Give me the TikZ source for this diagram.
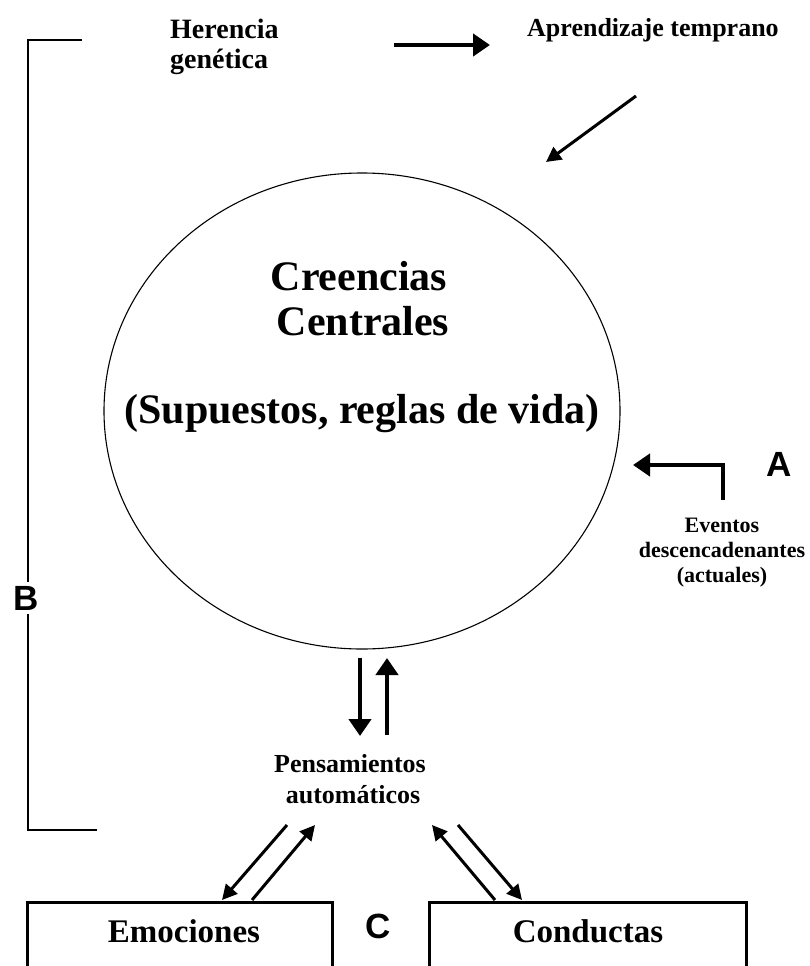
\documentclass[tikz,border=0pt]{standalone}
\usepackage{fontspec}
\setmainfont{Liberation Serif}
\newfontfamily\lsans{Liberation Sans}
\usetikzlibrary{arrows.meta,shapes.geometric}
\tikzset{
  txt/.style={align=center, inner sep=0pt},
  letter/.style={font=\lsans\bfseries\fontsize{35}{35}\selectfont, inner sep=0pt},
  thickarrow/.style={line width=4.5pt, -{Triangle[length=17pt,width=22pt]}},
  diagarrow/.style={line width=3pt, -{Triangle[length=15pt,width=15pt]}},
  brk/.style={line width=1.2pt},
  boxline/.style={line width=3pt}
}
\begin{document}
\begin{tikzpicture}[x=1pt,y=-1pt]
\useasboundingbox (0,0) rectangle (810,966);
% bracket B
\coordinate (bt1) at (82,40);
\coordinate (bt0) at (28,40);
\coordinate (bb0) at (28,830);
\coordinate (bb1) at (97,830);
\node[letter] (B) at (26,598) {B};
\draw[brk] (bt1) -- (bt0) -- ([yshift=4pt]B.north -| bt0);
\draw[brk] ([yshift=-4pt]B.south -| bb0) -- (bb0) -- (bb1);
% top labels
\node[txt, align=left, anchor=west, font=\bfseries\fontsize{28}{30}\selectfont] (her) at (170,47) {Herencia\\genética};
\node[txt, anchor=base west, font=\bfseries\fontsize{26}{30}\selectfont] (apr) at (527,37) {Aprendizaje temprano};
\coordinate (h1) at (394,45);
\coordinate (h2) at (490,45);
\draw[thickarrow] (h1) -- (h2);
\coordinate (d1) at (636,96);
\coordinate (d2) at (546,162);
\draw[diagarrow] (d1) -- (d2);
% circle
\node[draw, line width=1.1pt, ellipse, minimum width=516pt, minimum height=476pt, inner sep=0pt] (circ) at (362,411) {};
\node[txt, font=\bfseries\fontsize{42}{45}\selectfont] (cc) at (359,299) {Creencias\\[0pt]\hspace*{8pt}Centrales};
\node[txt, anchor=base, font=\bfseries\fontsize{42}{45}\selectfont] (sup) at (362,423) {(Supuestos, reglas de vida)};
% A
\node[letter] (A) at (779,464) {A};
\node[txt, font=\bfseries\fontsize{22}{25}\selectfont] (ev) at (722,553) {Eventos\\descencadenantes\\(actuales)};
\coordinate (a0) at (723,500);
\coordinate (a1) at (723,465);
\coordinate (a2) at (633,465);
\draw[line width=4.5pt, -{Triangle[length=17pt,width=22pt]}] (a0) -- (a1) -- (a2);
% vertical arrows
\node[txt, font=\bfseries\fontsize{26}{31}\selectfont] (pen) at (350,779) {Pensamientos\\\hspace*{6pt}automáticos};
\coordinate (v1a) at (360,658);
\coordinate (v1b) at (360,736);
\coordinate (v2a) at (387,735);
\coordinate (v2b) at (387,658);
\draw[thickarrow] (v1a) -- (v1b);
\draw[thickarrow] (v2a) -- (v2b);
% boxes
\draw[boxline] (27,975) -- (27,902) -- (332,902) -- (332,975);
\draw[boxline] (429,975) -- (429,902) -- (746,902) -- (746,975);
\node[txt, anchor=base, font=\bfseries\fontsize{33}{36}\selectfont] (emo) at (184,942) {Emociones};
\node[txt, anchor=base, font=\bfseries\fontsize{33}{36}\selectfont] (con) at (588,942) {Conductas};
\node[letter] (C) at (378,926) {C};
% diagonal arrows
\coordinate (e1a) at (287,825);
\coordinate (e1b) at (222,900);
\coordinate (e2a) at (252,900);
\coordinate (e2b) at (315,825);
\draw[diagarrow] (e1a) -- (e1b);
\draw[diagarrow] (e2a) -- (e2b);
\coordinate (c1a) at (495,900);
\coordinate (c1b) at (432,825);
\coordinate (c2a) at (458,825);
\coordinate (c2b) at (522,900);
\draw[diagarrow] (c1a) -- (c1b);
\draw[diagarrow] (c2a) -- (c2b);
\end{tikzpicture}
\end{document}
